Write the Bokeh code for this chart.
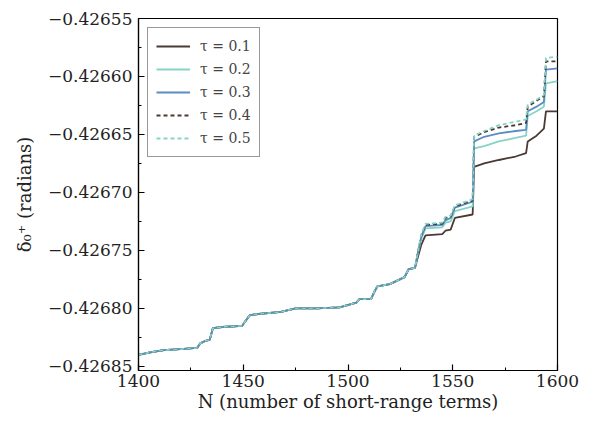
from bokeh.plotting import figure
from bokeh.models import FixedTicker, CustomJSTickFormatter, Legend, LegendItem, Range1d
from bokeh.embed import file_html
from bokeh.resources import INLINE

# ---- data ----
n_common = [1400, 1405, 1412, 1420, 1428, 1429.5, 1432, 1434, 1435.5, 1440, 1449.5,
            1451, 1453, 1456, 1468, 1475, 1485, 1496, 1504, 1505.5, 1511, 1512.5,
            1514, 1520, 1527, 1529, 1532]
d_common = [-0.426840, -0.426838, -0.426836, -0.426835, -0.426834, -0.426830,
            -0.426828, -0.426827, -0.426817, -0.426816, -0.426815, -0.426811,
            -0.426806, -0.426805, -0.426803, -0.426800, -0.426800, -0.426799,
            -0.426795, -0.426792, -0.426792, -0.426786, -0.426781, -0.426779,
            -0.426773, -0.426766, -0.426765]

n_tail = [1533, 1535, 1537, 1545, 1546.5, 1549, 1551, 1559.5, 1560.2, 1565, 1572,
          1580, 1585, 1585.8, 1590, 1593.5, 1594.5, 1600]
d_tau01 = [-0.426758, -0.426745, -0.426737, -0.426736, -0.426733, -0.426732,
           -0.426722, -0.426719, -0.426678, -0.426675, -0.426672, -0.426669,
           -0.426666, -0.426656, -0.426651, -0.426645, -0.426630, -0.426630]
d_tau02 = [-0.426755, -0.426740, -0.426731, -0.426730, -0.426726, -0.426725,
           -0.426716, -0.426712, -0.426662, -0.426660, -0.426656, -0.426653,
           -0.426651, -0.426634, -0.426630, -0.426626, -0.426606, -0.426604]
d_tau03 = [-0.426755, -0.426738, -0.426729, -0.426728, -0.426724, -0.426722,
           -0.426713, -0.426708, -0.426656, -0.426652, -0.426649, -0.426647,
           -0.426646, -0.426630, -0.426626, -0.426622, -0.426594, -0.426593]
d_tau04 = [-0.426755, -0.426737, -0.426728, -0.426727, -0.426722, -0.426721,
           -0.426712, -0.426707, -0.426652, -0.426648, -0.426644, -0.426642,
           -0.426640, -0.426626, -0.426621, -0.426617, -0.426587, -0.426587]
d_tau05 = [-0.426755, -0.426736, -0.426727, -0.426726, -0.426721, -0.426720,
           -0.426711, -0.426706, -0.426651, -0.426647, -0.426642, -0.426639,
           -0.426637, -0.426624, -0.426620, -0.426616, -0.426584, -0.426583]

labels = ["τ = 0.1", "τ = 0.2", "τ = 0.3", "τ = 0.4", "τ = 0.5"]
x_ticks = [1400, 1450, 1500, 1550, 1600]
x_minor = [1425, 1475, 1525, 1575]
y_ticks = [-0.42685, -0.42680, -0.42675, -0.42670, -0.42665, -0.42660, -0.42655]
y_minor = [-0.426825, -0.426775, -0.426725, -0.426675, -0.426625, -0.426575]

# ---- styles ----
series = [d_tau01, d_tau02, d_tau03, d_tau04, d_tau05]
colors = ["#4b3a34", "#86d4c6", "#5b8cc2", "#4b3a34", "#86d4c6"]
dashes = ["solid", "solid", "solid", "4 3", "4 3"]
FONT = "DejaVu Serif"

p = figure(frame_width=419, frame_height=352, output_backend="svg",
           toolbar_location=None,
           x_range=Range1d(1400, 1600), y_range=Range1d(-0.4268535, -0.42655),
           min_border_left=138, min_border_right=36, min_border_top=18,
           min_border_bottom=36)
p.grid.visible = False
p.outline_line_color = "black"
p.outline_line_width = 1.2
p.background_fill_color = "white"
p.border_fill_color = "white"

items = []
for d, c, dash, lab in zip(series, colors, dashes, labels):
    r = p.line(n_common + n_tail, d_common + d, line_color=c, line_width=1.8,
               line_dash=dash)
    items.append(LegendItem(label=lab, renderers=[r]))

p.xaxis.ticker = FixedTicker(ticks=x_ticks, minor_ticks=x_minor)
p.yaxis.ticker = FixedTicker(ticks=y_ticks, minor_ticks=y_minor)
p.yaxis.formatter = CustomJSTickFormatter(
    code="return (tick < 0 ? '\u2212' : '') + Math.abs(tick).toFixed(5);")

for ax in (p.xaxis[0], p.yaxis[0]):
    ax.major_tick_in = 6
    ax.major_tick_out = 0
    ax.minor_tick_in = 3
    ax.minor_tick_out = 0
    ax.axis_line_width = 1.2
    ax.major_tick_line_width = 1.2
    ax.minor_tick_line_width = 1
    ax.major_label_text_font = FONT
    ax.major_label_text_font_size = "17px"
    ax.major_label_text_color = "#222222"
    ax.axis_label_text_font = FONT
    ax.axis_label_text_font_size = "18px"
    ax.axis_label_text_font_style = "normal"
    ax.axis_label_text_color = "#222222"

p.xaxis.axis_label = "N (number of short-range terms)"
p.yaxis.axis_label = "δ₀⁺ (radians)"
p.xaxis.major_label_standoff = 4
p.yaxis.major_label_standoff = 6
p.xaxis.axis_label_standoff = 1
p.yaxis.axis_label_standoff = 10

legend = Legend(items=items, location="top_left", margin=9, padding=8,
                spacing=3, glyph_width=34, glyph_height=20, label_height=20,
                label_standoff=10, label_text_font=FONT,
                label_text_font_size="14px", border_line_color="#333333",
                border_line_width=1, background_fill_alpha=1)
p.add_layout(legend)

open("out.html", "w").write(file_html(p, INLINE))
